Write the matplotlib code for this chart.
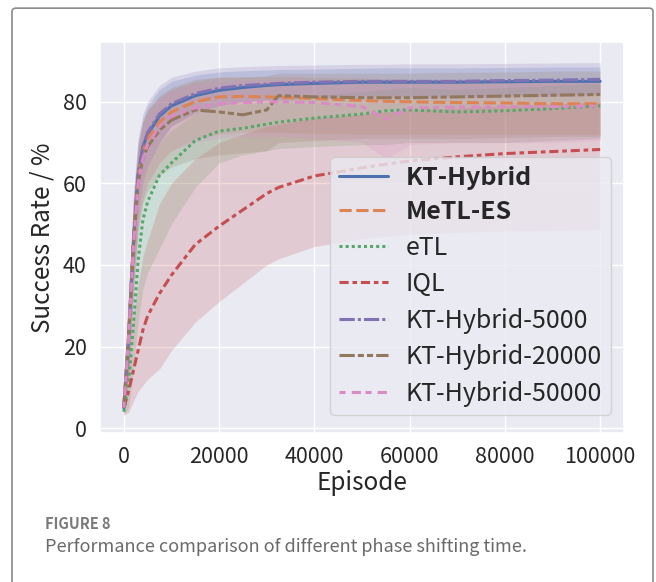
import numpy as np
import matplotlib
matplotlib.use('Agg')
import matplotlib.pyplot as plt
import seaborn as sns
from matplotlib.patches import FancyBboxPatch

sns.set_theme(style='darkgrid')
plt.rcParams['font.family'] = ['Noto Sans CJK SC', 'DejaVu Sans']

# ── Data ──────────────────────────────────────────────────────
EPISODES = [0, 1000, 2000, 3000, 4000, 5000, 7500, 10000, 15000, 20000,
            25000, 30000, 32500, 40000, 50000, 55000, 60000, 70000, 80000,
            90000, 100000]

LABELS = ['KT-Hybrid', 'MeTL-ES', 'eTL', 'IQL',
          'KT-Hybrid-5000', 'KT-Hybrid-20000', 'KT-Hybrid-50000']

kt_mean  = [5, 22, 45, 62, 69, 72, 76.5, 79, 81.5, 82.8, 83.5, 84, 84.2, 84.5,
            84.8, 84.8, 84.8, 84.8, 84.9, 85, 85]
kt_low   = [3.5, 14, 35, 52, 60, 64, 70, 74, 77, 79, 80, 80.5, 80.6, 81,
            81.5, 81.5, 81.5, 81.5, 81.5, 81.8, 82]
kt_high  = [7, 30, 56, 70, 76, 79, 83, 85, 86.5, 87.3, 87.6, 87.8, 87.9, 88,
            88.2, 88.3, 88.3, 88.3, 88.4, 88.5, 88.5]

metl_mean = [5, 23, 46, 62, 68, 71, 75, 77.5, 80, 81.2, 81.3, 81.2, 81.1, 80.8,
             80.3, 80.1, 80, 79.8, 79.7, 79.5, 79.5]
metl_low  = [3.5, 14, 34, 50, 56, 60, 65, 68, 71, 72, 72.5, 72.5, 72.5, 72.3,
             72, 72, 72, 72, 72, 72, 72]
metl_high = [7, 31, 56, 70, 75, 78, 81, 83, 85, 86, 86.2, 86.2, 86.2, 86,
             85.8, 85.6, 85.5, 85.4, 85.3, 85.2, 85.2]

etl_mean = [4, 11, 25, 41, 51, 55.5, 62, 65, 70.5, 72.8, 73.5, 74.5, 75, 76,
            77, 77.8, 78, 77.5, 77.8, 78.3, 79]
etl_low  = [3.2, 5, 14, 26, 34, 38, 44, 50, 59, 65, 67, 68, 68.5, 69,
            69.5, 69.5, 70, 70, 70, 70.5, 71]
etl_high = [6, 18, 36, 52, 60, 64, 70, 73, 77, 79, 79.5, 80, 80.5, 81.5,
            82.5, 83, 83.5, 83, 83.5, 84, 84.5]

iql_mean = [5, 9, 14, 19, 24, 27.5, 33, 37.5, 45, 49.5, 53.5, 57.5, 59, 61.8,
            63.8, 64.7, 65.5, 66.5, 67.3, 67.8, 68.3]
iql_low  = [3.2, 3.8, 6.5, 9, 10.5, 12, 14.5, 19, 26, 31, 35.5, 40, 41.5, 44.5,
            46.5, 47, 47.5, 48, 48.3, 48.5, 48.6]
iql_high = [8, 18, 28, 35, 42, 46, 55, 60, 66, 70, 72, 74, 74.5, 76,
            77, 77.5, 78, 78.5, 79, 79.5, 80]

kt5_mean = [5, 22, 45, 62, 69, 72.5, 77, 79.5, 82, 83.3, 84, 84.3, 84.5, 84.8,
            85, 85, 85, 85, 85.2, 85.3, 85.5]
kt5_low  = [3.5, 14, 35, 52, 60, 64, 70, 74, 77.5, 79, 80, 80.3, 80.5, 80.8,
            81, 81, 81, 81, 81.2, 81.3, 81.5]
kt5_high = [7, 31, 57, 71, 77, 80, 84, 86, 87.5, 88.3, 88.6, 88.8, 88.9, 89,
            89.2, 89.2, 89.3, 89.3, 89.4, 89.5, 89.6]

kt20_mean = [5, 22, 44, 60, 66, 69, 73, 75.5, 78, 77.5, 76.8, 78, 81.5, 81.2,
             81, 81, 81, 81.2, 81.4, 81.6, 81.8]
kt20_low  = [3.5, 13, 32, 48, 55, 58, 62, 64, 66, 67, 67.5, 68, 70, 70.5,
             71, 71, 71, 71, 71.2, 71.5, 71.5]
kt20_high = [7, 31, 55, 69, 75, 78, 81.5, 83.5, 85.5, 86, 86, 86.3, 87, 87,
             87, 87, 87, 87.2, 87.3, 87.5, 87.5]

kt50_mean = [5, 22, 44, 60, 66, 69.5, 74, 76.5, 78.5, 79.5, 79.8, 80, 80, 79.8,
             78.8, 75.8, 78.5, 78.7, 78.8, 78.8, 79]
kt50_low  = [3.5, 13, 33, 49, 56, 60, 65, 68, 70, 71, 71.5, 71.5, 71.5, 71,
             70, 66, 69.5, 70, 70, 70, 70.5]
kt50_high = [7, 30, 54, 68, 74, 77, 81, 83, 84.5, 85, 85.3, 85.5, 85.5, 85.5,
             85, 84, 85, 85, 85, 85, 85.2]

MEANS = [kt_mean, metl_mean, etl_mean, iql_mean, kt5_mean, kt20_mean, kt50_mean]
LOWS  = [kt_low, metl_low, etl_low, iql_low, kt5_low, kt20_low, kt50_low]
HIGHS = [kt_high, metl_high, etl_high, iql_high, kt5_high, kt20_high, kt50_high]

# seaborn default dash sequence (style == hue)
DASHES = ['', (4, 1.5), (1, 1), (3, 1.25, 1.5, 1.25), (5, 1, 1, 1),
          (5, 1, 2, 1, 2, 1), (2, 2, 3, 1.5)]
COLORS = sns.color_palette('deep', 7)

# ── Plot ──────────────────────────────────────────────────────
fig = plt.figure(figsize=(6.56, 5.82), dpi=100)
fig.patch.set_facecolor('white')
ax = fig.add_axes([0.1524, 0.256, 0.7988, 0.6722])

# outer frame
frame = FancyBboxPatch((12 / 656, -0.05), 641 / 656, 1.036, transform=fig.transFigure,
                       boxstyle='round,pad=0,rounding_size=0.006',
                       facecolor='none', edgecolor='#8a8a8a', linewidth=1.2,
                       zorder=-1)
fig.patches.append(frame)

x = np.array(EPISODES)
for i, lab in enumerate(LABELS):
    ax.fill_between(x, LOWS[i], HIGHS[i], color=COLORS[i], alpha=0.2, linewidth=0)

for i, lab in enumerate(LABELS):
    line, = ax.plot(x, MEANS[i], color=COLORS[i], linewidth=2.2, label=lab)
    if DASHES[i]:
        line.set_dashes(DASHES[i])

ax.set_xlim(-5000, 105000)
ax.set_ylim(-1.2, 94.7)
ax.set_xticks([0, 20000, 40000, 60000, 80000, 100000])
ax.set_yticks([0, 20, 40, 60, 80])
ax.tick_params(labelsize=15.5, colors='#262626')
ax.set_xlabel('Episode', fontsize=17.5, color='#262626', labelpad=1)
ax.set_ylabel('Success Rate / %', fontsize=17.5, color='#262626', labelpad=5)

leg = ax.legend(loc='lower right', bbox_to_anchor=(0.9983, 0.013), fontsize=18,
                handlelength=1.95, labelspacing=0.42, borderpad=0.35,
                handletextpad=0.7, fancybox=True)
leg.get_frame().set_facecolor('#EAEAF2')
leg.get_frame().set_alpha(0.8)
for t in leg.get_texts()[:2]:
    t.set_fontweight('bold')

# caption
fig.text(45 / 656, 1 - 524 / 582, 'FIGURE 8', fontsize=10.5, color='#7a7a7a',
         fontweight='bold', va='center', ha='left')
fig.text(45 / 656, 1 - 547 / 582, 'Performance comparison of different phase shifting time.',
         fontsize=13, color='#6a6a6a', va='center', ha='left')

fig.savefig('out.png', dpi=100)
